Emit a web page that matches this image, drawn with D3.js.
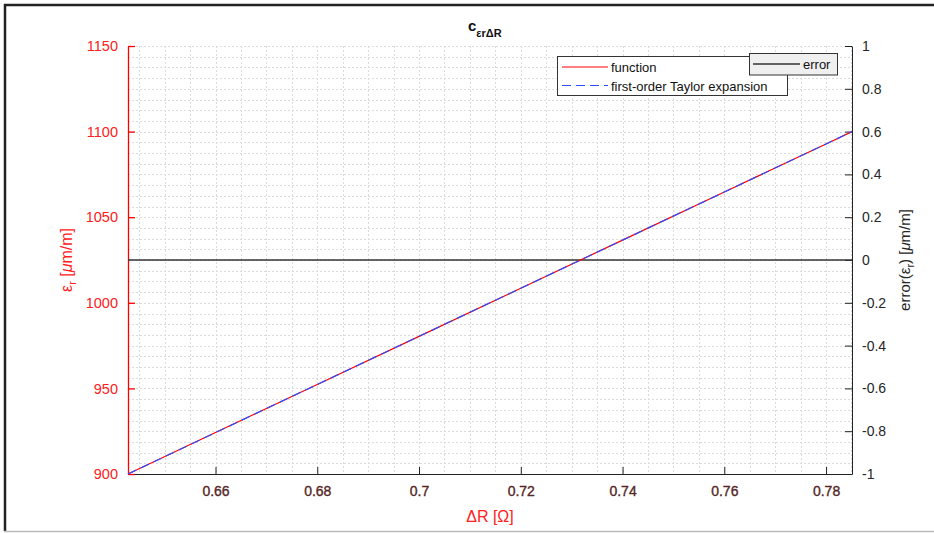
<!DOCTYPE html>
<html>
<head>
<meta charset="utf-8">
<script src="https://cdn.jsdelivr.net/npm/d3@7"></script>
<style>
  body { margin: 0; background: #fff; }
  text { font-family: "Liberation Sans", Arial, sans-serif; }
</style>
</head>
<body>
<div id="chart"></div>
<script>
var width = 934,
    height = 533;
var margin = {left: 128, right: 82, top: 46, bottom: 59};

// values
var dR = [0.6428, 0.66, 0.68, 0.70, 0.72, 0.74, 0.76, 0.78, 0.7851];
var epsFunction = [900, 924.2, 952.3, 980.4, 1008.5, 1036.6, 1064.7, 1092.8, 1100];
var epsTaylor = [900, 924.2, 952.3, 980.4, 1008.5, 1036.6, 1064.7, 1092.8, 1100];
var epsError = [0, 0, 0, 0, 0, 0, 0, 0, 0];

var xTicks = [0.66, 0.68, 0.70, 0.72, 0.74, 0.76, 0.78];
var xMinor = [0.645, 0.65, 0.655, 0.66, 0.665, 0.67, 0.675, 0.68, 0.685, 0.69, 0.695, 0.70,
              0.705, 0.71, 0.715, 0.72, 0.725, 0.73, 0.735, 0.74, 0.745, 0.75, 0.755, 0.76,
              0.765, 0.77, 0.775, 0.78, 0.785];
var yLeftTicks = [900, 950, 1000, 1050, 1100, 1150];
var yRightTicks = [-1, -0.8, -0.6, -0.4, -0.2, 0, 0.2, 0.4, 0.6, 0.8, 1];
var yMinor = d3.range(900, 1150.01, 6.25);

var legendMain = ["function", "first-order Taylor expansion"];
var legendErr = ["error"];

var svg = d3.select("#chart").append("svg")
    .attr("width", width)
    .attr("height", height);

// figure frame
svg.append("line").attr("x1", 4).attr("x2", width).attr("y1", 5).attr("y2", 5)
    .style("stroke", "#222").style("stroke-width", 2.5);
svg.append("line").attr("x1", 5).attr("x2", 5).attr("y1", 4).attr("y2", 531)
    .style("stroke", "#222").style("stroke-width", 2.5);
svg.append("line").attr("x1", 4).attr("x2", width).attr("y1", 531.5).attr("y2", 531.5)
    .style("stroke", "#bbb").style("stroke-width", 1.5);

var x = d3.scaleLinear().domain([0.6428, 0.7851]).range([margin.left, width - margin.right]);
var yL = d3.scaleLinear().domain([900, 1150]).range([height - margin.bottom, margin.top]);
var yR = d3.scaleLinear().domain([-1, 1]).range([height - margin.bottom, margin.top]);

var plotTop = margin.top, plotBottom = height - margin.bottom;
var plotLeft = margin.left, plotRight = width - margin.right;

// grid
var grid = svg.append("g");
grid.selectAll(".vgrid").data(xMinor).enter().append("line")
    .attr("x1", function (d) { return Math.round(x(d)) + 0.5; })
    .attr("x2", function (d) { return Math.round(x(d)) + 0.5; })
    .attr("y1", plotTop).attr("y2", plotBottom)
    .style("stroke", "#dcdcdc").style("stroke-dasharray", "2,2");
grid.selectAll(".hgrid").data(yMinor).enter().append("line")
    .attr("y1", function (d) { return Math.round(yL(d)) + 0.5; })
    .attr("y2", function (d) { return Math.round(yL(d)) + 0.5; })
    .attr("x1", plotLeft).attr("x2", plotRight)
    .style("stroke", "#dcdcdc").style("stroke-dasharray", "2,2");

// axes
var xAxis = svg.append("g")
    .attr("transform", "translate(0," + plotBottom + ")")
    .call(d3.axisBottom(x).tickValues(xTicks).tickSize(-7).tickSizeOuter(0).tickPadding(12)
        .tickFormat(function (d) { return String(+d.toFixed(2)); }));
xAxis.select(".domain").style("stroke", "#222");
xAxis.selectAll(".tick line").style("stroke", "#222");
xAxis.selectAll("text").style("fill", "#552626").style("font-size", "14px")
    .style("stroke", "#552626").style("stroke-width", 0.35);

var leftAxis = svg.append("g")
    .attr("transform", "translate(" + plotLeft + ",0)")
    .call(d3.axisLeft(yL).tickValues(yLeftTicks).tickSize(-7).tickSizeOuter(0).tickPadding(10)
        .tickFormat(function (d) { return String(d); }));
leftAxis.select(".domain").style("stroke", "#ff0000").style("stroke-width", 1.3);
leftAxis.selectAll(".tick line").style("stroke", "#ff0000").style("stroke-width", 1.3);
leftAxis.selectAll("text").style("fill", "#ff2020").style("font-size", "14.5px");

var rightAxis = svg.append("g")
    .attr("transform", "translate(" + plotRight + ",0)")
    .call(d3.axisRight(yR).tickValues(yRightTicks).tickSize(-7).tickSizeOuter(0).tickPadding(10)
        .tickFormat(function (d) { return String(+d.toFixed(1)); }));
rightAxis.select(".domain").style("stroke", "#222");
rightAxis.selectAll(".tick line").style("stroke", "#222");
rightAxis.selectAll("text").style("fill", "#262626").style("font-size", "14px");

// lines
var pts = dR.map(function (d, i) { return i; });
var lineF = d3.line().x(function (i) { return x(dR[i]); }).y(function (i) { return yL(epsFunction[i]); });
var lineT = d3.line().x(function (i) { return x(dR[i]); }).y(function (i) { return yL(epsTaylor[i]); });
var lineE = d3.line().x(function (i) { return x(dR[i]); }).y(function (i) { return yR(epsError[i]); });

svg.append("path").attr("d", lineE(pts))
    .style("fill", "none").style("stroke", "#333").style("stroke-width", 1.3);
svg.append("path").attr("d", lineF(pts))
    .style("fill", "none").style("stroke", "#ff0000").style("stroke-width", 1.2);
svg.append("path").attr("d", lineT(pts))
    .style("fill", "none").style("stroke", "#2a4dff").style("stroke-width", 1.2)
    .style("stroke-dasharray", "9,5");

// title
var title = svg.append("text").attr("x", 468).attr("y", 31)
    .style("font-weight", "bold").style("font-size", "15px").style("fill", "#111");
title.append("tspan").text("c");
title.append("tspan").attr("dy", 6).style("font-size", "11px").text("εrΔR");

// axis labels
svg.append("text").attr("x", 490).attr("y", 522).attr("text-anchor", "middle")
    .style("fill", "#ff2020").style("font-size", "16px").text("ΔR [Ω]");

var ll = svg.append("text").attr("transform", "translate(72,260) rotate(-90)")
    .attr("text-anchor", "middle").style("fill", "#ff2020").style("font-size", "16px");
ll.append("tspan").text("ε");
ll.append("tspan").attr("dy", 4).style("font-size", "11px").text("r");
ll.append("tspan").attr("dy", -4).text(" [");
ll.append("tspan").style("font-style", "italic").text("μ");
ll.append("tspan").text("m/m]");

var rl = svg.append("text").attr("transform", "translate(910,260) rotate(-90)")
    .attr("text-anchor", "middle").style("fill", "#262626").style("font-size", "15px");
rl.append("tspan").text("error(ε");
rl.append("tspan").attr("dy", 4).style("font-size", "11px").text("r");
rl.append("tspan").attr("dy", -4).text(") [");
rl.append("tspan").style("font-style", "italic").text("μ");
rl.append("tspan").text("m/m]");

// legend 1
var lg = svg.append("g");
lg.append("rect").attr("x", 557.5).attr("y", 56.5).attr("width", 230).attr("height", 39)
    .style("fill", "#fff").style("stroke", "#333");
lg.selectAll(".li").data(legendMain).enter().append("line")
    .attr("x1", 562).attr("x2", 608)
    .attr("y1", function (d, i) { return 67 + i * 18.5; })
    .attr("y2", function (d, i) { return 67 + i * 18.5; })
    .style("stroke", function (d, i) { return i === 0 ? "#ff0000" : "#2a4dff"; })
    .style("stroke-width", 1.2)
    .style("stroke-dasharray", function (d, i) { return i === 0 ? null : "9,5"; });
lg.selectAll(".lt").data(legendMain).enter().append("text")
    .attr("x", 611)
    .attr("y", function (d, i) { return 72 + i * 18.5; })
    .style("font-size", "13px").style("fill", "#111")
    .text(function (d) { return d; });

// legend 2
var lg2 = svg.append("g");
lg2.append("rect").attr("x", 749.5).attr("y", 53.5).attr("width", 88).attr("height", 21.5)
    .style("fill", "#efefef").style("stroke", "#333");
lg2.selectAll(".li").data(legendErr).enter().append("line")
    .attr("x1", 753).attr("x2", 800).attr("y1", 64).attr("y2", 64)
    .style("stroke", "#333").style("stroke-width", 1.3);
lg2.selectAll(".lt").data(legendErr).enter().append("text")
    .attr("x", 803).attr("y", 69)
    .style("font-size", "13px").style("fill", "#111")
    .text(function (d) { return d; });
</script>
</body>
</html>
